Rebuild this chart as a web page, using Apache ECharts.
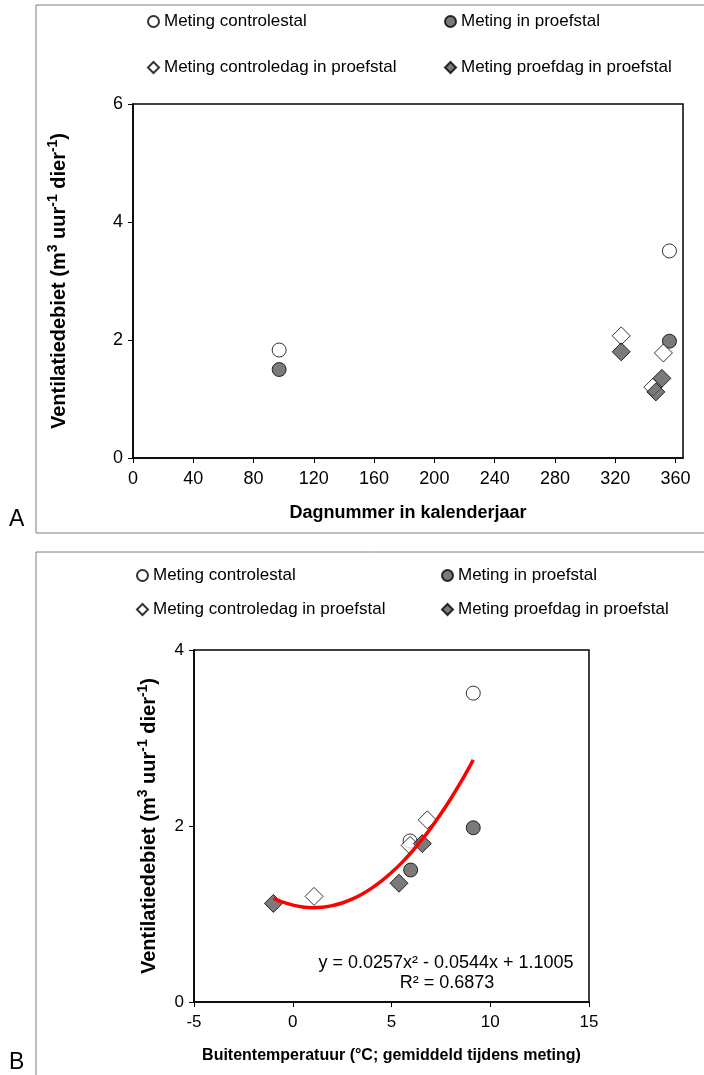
<!DOCTYPE html>
<html>
<head>
<meta charset="utf-8">
<script src="https://cdn.jsdelivr.net/npm/echarts@6/dist/echarts.min.js"></script>
<style>
  html, body { margin: 0; padding: 0; background: #fff; }
  #chart { width: 704px; height: 1075px; }
</style>
</head>
<body>
<div id="chart"></div>
<script>
// legend names
const names = [
  'Meting controlestal',
  'Meting in proefstal',
  'Meting controledag in proefstal',
  'Meting proefdag in proefstal'
]

// A: dagnummer vs ventilatiedebiet
const dayControlestal = [97, 356]
const valControlestal = [1.83, 3.51]
const dayProefstal = [97, 356]
const valProefstal = [1.50, 1.98]
const dayControledag = [324, 352, 345]
const valControledag = [2.07, 1.78, 1.20]
const dayProefdag = [324, 347, 351]
const valProefdag = [1.80, 1.12, 1.35]

// B: buitentemperatuur vs ventilatiedebiet
const tempControlestal = [5.94, 9.14]
const tempProefstal = [5.97, 9.14]
const tempControledag = [6.81, 5.94, 1.08]
const tempProefdag = [6.56, -0.98, 5.38]

const trendX = [-0.98, -0.5, 0, 0.5, 1, 1.5, 2, 2.5, 3, 3.5, 4, 4.5, 5, 5.5, 6, 6.5, 7, 7.5, 8, 8.5, 9, 9.14]
const trendY = [1.178, 1.134, 1.101, 1.080, 1.072, 1.076, 1.095, 1.125, 1.168, 1.225, 1.294, 1.376, 1.471, 1.578, 1.699, 1.833, 1.979, 2.138, 2.310, 2.495, 2.693, 2.751]

const xTicksA = [0, 40, 80, 120, 160, 200, 240, 280, 320, 360]

const zip = (xs, ys) => xs.map((x, i) => [x, ys[i]])

const font = "'Liberation Sans', Arial, sans-serif"
const darkFill = '#595959'

const markerStyle = [
  { symbol: 'circle', symbolSize: 14, color: '#fff' },
  { symbol: 'circle', symbolSize: 14, color: darkFill },
  { symbol: 'diamond', symbolSize: 18, color: '#fff' },
  { symbol: 'diamond', symbolSize: 18, color: darkFill }
]

const dataA = [
  zip(dayControlestal, valControlestal),
  zip(dayProefstal, valProefstal),
  zip(dayControledag, valControledag),
  zip(dayProefdag, valProefdag)
]
const dataB = [
  zip(tempControlestal, valControlestal),
  zip(tempProefstal, valProefstal),
  zip(tempControledag, valControledag),
  zip(tempProefdag, valProefdag)
]

function scatter(i, data, axisIdx) {
  return {
    name: names[i],
    type: 'scatter',
    xAxisIndex: axisIdx,
    yAxisIndex: axisIdx,
    symbol: markerStyle[i].symbol,
    symbolSize: markerStyle[i].symbolSize,
    itemStyle: {
      color: markerStyle[i].color,
      borderColor: '#000',
      borderWidth: 1
    },
    data: data
  }
}

function legendAt(name, left, top) {
  return {
    data: [name],
    left: left,
    top: top,
    padding: 0,
    itemWidth: 11,
    itemHeight: 11,
    itemGap: 4,
    selectedMode: false,
    textStyle: { fontFamily: font, fontSize: 17, color: '#000' }
  }
}

function axisBase(size) {
  return {
    axisLine: { show: true, onZero: false, lineStyle: { color: '#000', width: 1.5 } },
    axisTick: { show: true, inside: false, length: 5, lineStyle: { color: '#000' } },
    splitLine: { show: false },
    nameLocation: 'middle',
    nameTextStyle: { fontFamily: font, fontSize: size, fontWeight: 'bold', color: '#000' }
  }
}
const label = size => ({ fontFamily: font, fontSize: size, color: '#000' })

// y-as titel met superscript
const yTitle = '{b|Ventilatiedebiet (m}{s|3}{b| uur}{s|-1}{b| dier}{s|-1}{b|)}'
const yTitleStyle = size => ({
  rich: {
    b: { fontFamily: font, fontSize: size, fontWeight: 'bold', color: '#000', verticalAlign: 'bottom', lineHeight: size + 4 },
    s: { fontFamily: font, fontSize: Math.round(size * 0.7), fontWeight: 'bold', color: '#000', verticalAlign: 'bottom', lineHeight: size + 4, padding: [0, 0, Math.round(size * 0.45), 0] }
  }
})

const chart = echarts.init(document.getElementById('chart'), null, { renderer: 'canvas' })

const option = {
  backgroundColor: '#fff',
  animation: false,
  textStyle: { fontFamily: font },
  legend: [
    legendAt(names[0], 147, 13),
    legendAt(names[1], 444, 13),
    legendAt(names[2], 147, 59),
    legendAt(names[3], 444, 59),
    legendAt(names[0], 136, 567),
    legendAt(names[1], 441, 567),
    legendAt(names[2], 136, 601),
    legendAt(names[3], 441, 601)
  ],
  grid: [
    { left: 133, top: 104, width: 550, height: 354, show: true, borderColor: '#000', borderWidth: 1.5 },
    { left: 194, top: 650, width: 395, height: 352, show: true, borderColor: '#000', borderWidth: 1.5 }
  ],
  xAxis: [
    Object.assign(axisBase(18), {
      gridIndex: 0, type: 'value', min: 0, max: 365, interval: 40,
      name: 'Dagnummer in kalenderjaar', nameGap: 46,
      axisLabel: Object.assign(label(18), {
        margin: 12, showMaxLabel: false,
        formatter: v => (xTicksA.indexOf(v) >= 0 ? String(v) : '')
      })
    }),
    Object.assign(axisBase(16), {
      gridIndex: 1, type: 'value', min: -5, max: 15, interval: 5,
      name: 'Buitentemperatuur (°C; gemiddeld tijdens meting)', nameGap: 46,
      axisLabel: Object.assign(label(17), { margin: 12 })
    })
  ],
  yAxis: [
    Object.assign(axisBase(20), {
      gridIndex: 0, type: 'value', min: 0, max: 6, interval: 2,
      name: yTitle, nameGap: 64, nameTextStyle: yTitleStyle(20),
      axisLabel: Object.assign(label(18), { margin: 10 })
    }),
    Object.assign(axisBase(20), {
      gridIndex: 1, type: 'value', min: 0, max: 4, interval: 2,
      name: yTitle, nameGap: 35, nameTextStyle: yTitleStyle(20),
      axisLabel: Object.assign(label(17), { margin: 10 })
    })
  ],
  series: [
    scatter(0, dataA[0], 0),
    scatter(1, dataA[1], 0),
    scatter(2, dataA[2], 0),
    scatter(3, dataA[3], 0),
    scatter(0, dataB[0], 1),
    scatter(1, dataB[1], 1),
    scatter(2, dataB[2], 1),
    scatter(3, dataB[3], 1),
    {
      name: 'Trendlijn',
      type: 'line',
      xAxisIndex: 1,
      yAxisIndex: 1,
      smooth: 0.3,
      showSymbol: false,
      z: 5,
      lineStyle: { color: '#ff0000', width: 3.5 },
      data: zip(trendX, trendY)
    }
  ],
  graphic: [
    { type: 'rect', shape: { x: 36, y: 5, width: 700, height: 528 }, style: { fill: 'none', stroke: '#7f7f7f', lineWidth: 1 } },
    { type: 'rect', shape: { x: 36, y: 552, width: 700, height: 600 }, style: { fill: 'none', stroke: '#7f7f7f', lineWidth: 1 } },
    { type: 'text', left: 9, top: 508, style: { text: 'A', font: '23px ' + font, fill: '#000' } },
    { type: 'text', left: 9, top: 1051, style: { text: 'B', font: '23px ' + font, fill: '#000' } },
    { type: 'text', x: 446, y: 963, style: { text: 'y = 0.0257x² - 0.0544x + 1.1005', font: '18px ' + font, fill: '#000', align: 'center', verticalAlign: 'middle' } },
    { type: 'text', x: 447, y: 983, style: { text: 'R² = 0.6873', font: '18px ' + font, fill: '#000', align: 'center', verticalAlign: 'middle' } }
  ]
}

chart.setOption(option)
</script>
</body>
</html>
